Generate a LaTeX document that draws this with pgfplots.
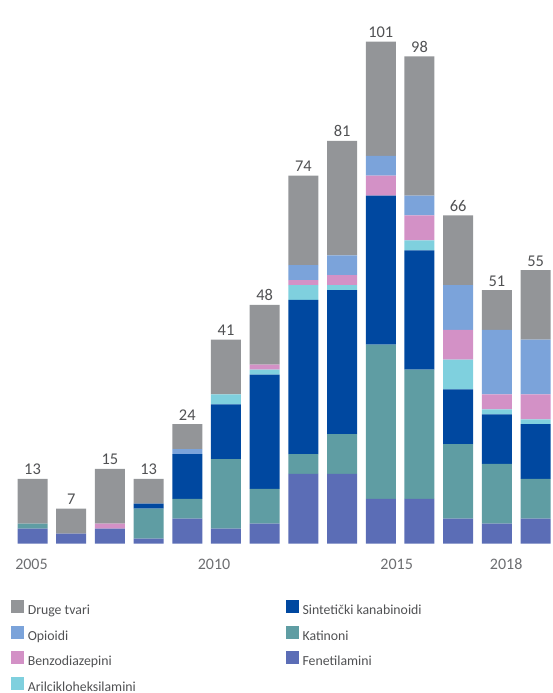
\documentclass[border=0pt]{standalone}
\usepackage{pgfplots}
\pgfplotsset{compat=1.18}
\usepackage{pgfplotstable}
\usepackage{fontspec}
\setmainfont{Carlito}

\definecolor{cDruge}{HTML}{939598}
\definecolor{cOpio}{HTML}{7BA3DA}
\definecolor{cBenzo}{HTML}{D391C6}
\definecolor{cAril}{HTML}{7FD0DE}
\definecolor{cSint}{HTML}{0048A0}
\definecolor{cKat}{HTML}{5F9DA3}
\definecolor{cFen}{HTML}{5B6DB6}
\definecolor{cTxt}{HTML}{505153}
\definecolor{cTick}{HTML}{6D6E71}

% number of new substances per year, by group
\pgfplotstableread{
idx Fen Kat Sint Aril Benzo Opio Druge Total
0   3   1   0    0    0     0    9     13
1   2   0   0    0    0     0    5     7
2   3   0   0    0    1     0    11    15
3   1   6   1    0    0     0    5     13
4   5   4   9    0    0     1    5     24
5   3   14  11   2    0     0    11    41
6   4   7   23   1    1     0    12    48
7   14  4   31   3    1     3    18    74
8   14  8   29   1    2     4    23    81
9   9   31  30   0    4     4    23    101
10  9   26  24   2    5     4    28    98
11  5   15  11   6    6     9    14    66
12  4   12  10   1    3     13   8     51
13  5   8   11   1    5     11   14    55
}\datatable

\newcommand\sq[1]{\addlegendimage{legend image code/.code={\fill[#1] (0pt,-0.8pt) rectangle (6pt,5.2pt);}}}

\pgfplotsset{
    frame/.style={
        at={(0pt,74.75pt)}, anchor=south west,
        scale only axis,
        width=276.5pt, height=271.75pt,
        xmin=-0.8398, xmax=13.4496,
        ymin=0, ymax=109.36,
        clip=false,
        axis line style={draw=none},
        tick style={draw=none},
        ytick=\empty,
    },
}

\begin{document}
\begin{tikzpicture}
\useasboundingbox (0,0) rectangle (276.5pt,346.5pt);
\begin{axis}[
    frame,
    ybar stacked,
    bar width=15pt,
    xtick={-0.026,4.69,9.41,12.24},
    xticklabels={2005,2010,2015,2018},
    xticklabel style={anchor=base, yshift=-13pt, inner sep=0pt,
        font=\fontsize{8}{9.6}\selectfont, text=cTick},
    legend columns=2,
    legend cell align=left,
    legend style={at={(0.0199,-0.1040)}, anchor=north west, draw=none, fill=none,
        inner sep=0pt, outer sep=0pt, column sep=2pt, row sep=4.0pt,
        font=\fontsize{6.9}{8.2}\selectfont, text=cTxt,
        nodes={inner sep=0pt, text height=5.2pt, text depth=1.5pt}},
]
\addplot[fill=cFen, draw=none, forget plot] table[x=idx, y=Fen] {\datatable};
\addplot[fill=cKat, draw=none, forget plot] table[x=idx, y=Kat] {\datatable};
\addplot[fill=cSint, draw=none, forget plot] table[x=idx, y=Sint] {\datatable};
\addplot[fill=cAril, draw=none, forget plot] table[x=idx, y=Aril] {\datatable};
\addplot[fill=cBenzo, draw=none, forget plot] table[x=idx, y=Benzo] {\datatable};
\addplot[fill=cOpio, draw=none, forget plot] table[x=idx, y=Opio] {\datatable};
\addplot[fill=cDruge, draw=none, forget plot] table[x=idx, y=Druge] {\datatable};

\sq{cDruge} \addlegendentry{\makebox[127pt][l]{Druge tvari}}
\sq{cSint}  \addlegendentry{Sintetički kanabinoidi}
\sq{cOpio}  \addlegendentry{\makebox[127pt][l]{Opioidi}}
\sq{cKat}   \addlegendentry{Katinoni}
\sq{cBenzo} \addlegendentry{\makebox[127pt][l]{Benzodiazepini}}
\sq{cFen}   \addlegendentry{Fenetilamini}
\sq{cAril}  \addlegendentry{\makebox[127pt][l]{Arilcikloheksilamini}}
\end{axis}

% totals above the bars, same frame
\begin{axis}[frame, xtick=\empty,
    /pgf/number format/assume math mode=true]
\addplot[draw=none, mark=none, point meta=explicit,
    nodes near coords,
    every node near coord/.style={anchor=base, yshift=2pt, inner sep=0pt,
        font=\fontsize{8.2}{9.6}\selectfont, text=cTxt}]
    table[x=idx, y=Total, meta=Total] {\datatable};
\end{axis}
\end{tikzpicture}
\end{document}
